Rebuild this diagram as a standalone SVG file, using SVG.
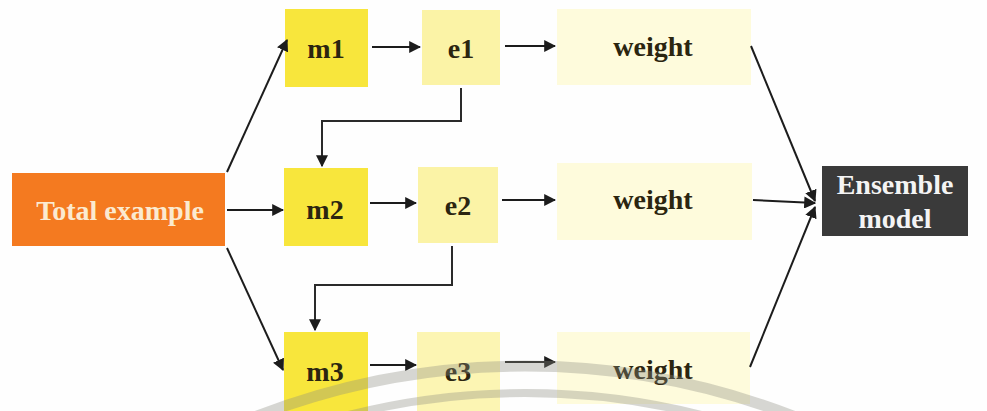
<svg xmlns="http://www.w3.org/2000/svg" width="987" height="411" viewBox="0 0 987 411">
  <style>
    .lbl { font-family: "Liberation Serif", "DejaVu Serif", serif; font-weight: bold; font-size: 28px; text-anchor: middle; fill: #2b2510; }
    .light { fill: #fbead0; }
    .white { fill: #f4f4f4; }
    .m { fill: #f8e63c; }
    .e { fill: #fbf3a6; }
    .w { fill: #fefbdc; }
    .edge { stroke: #1c1c1c; stroke-width: 2; fill: none; marker-end: url(#arrow); }
    .elbow { stroke: #2a2a2a; stroke-width: 2; fill: none; marker-end: url(#arrow); }
    .mark { fill: none; stroke: #8c8c80; stroke-opacity: 0.35; }
  </style>
  <defs>
    <marker id="arrow" viewBox="0 0 10 10" refX="9" refY="5" markerWidth="6" markerHeight="6" markerUnits="strokeWidth" orient="auto">
      <path d="M0,0 L10,5 L0,10 Z" fill="#1c1c1c"/>
    </marker>
  </defs>
  <rect width="987" height="411" fill="#fefefe"/>

  <g id="total">
    <rect x="12" y="173" width="213" height="73" fill="#f47a20"/>
    <text class="lbl light" x="120" y="220">Total example</text>
  </g>

  <g id="m1"><rect class="m" x="285" y="9" width="83" height="78"/><text class="lbl" x="326" y="58">m1</text></g>
  <g id="e1"><rect class="e" x="422" y="10" width="78" height="75"/><text class="lbl" x="461" y="58">e1</text></g>
  <g id="w1"><rect class="w" x="557" y="9" width="194" height="76"/><text class="lbl" x="653" y="56">weight</text></g>

  <g id="m2"><rect class="m" x="284" y="168" width="84" height="78"/><text class="lbl" x="325" y="219">m2</text></g>
  <g id="e2"><rect class="e" x="418" y="167" width="80" height="76"/><text class="lbl" x="458" y="215">e2</text></g>
  <g id="w2"><rect class="w" x="557" y="163" width="195" height="77"/><text class="lbl" x="653" y="209">weight</text></g>

  <g id="m3"><rect class="m" x="284" y="332" width="84" height="79"/><text class="lbl" x="325" y="381">m3</text></g>
  <g id="e3"><rect class="e" x="417" y="332" width="83" height="79" fill-opacity="0.85"/><text class="lbl" x="458" y="381">e3</text></g>
  <g id="w3"><rect class="w" x="557" y="332" width="193" height="72"/><text class="lbl" x="653" y="379">weight</text></g>

  <g id="ensemble">
    <rect x="822" y="166" width="146" height="70" fill="#3a3a3a"/>
    <text class="lbl white" x="895" y="194">Ensemble</text>
    <text class="lbl white" x="895" y="228">model</text>
  </g>

  <g id="connectors">
    <path class="edge" d="M227,172 L287,40"/>
    <path class="edge" d="M227,210 L283,210"/>
    <path class="edge" d="M227,248 L283,370"/>

    <path class="edge" d="M372,47 L420,47"/>
    <path class="edge" d="M505,46 L555,46"/>
    <path class="edge" d="M370,203 L416,203"/>
    <path class="edge" d="M502,200 L555,200"/>
    <path class="edge" d="M370,365 L416,365"/>
    <path class="edge" d="M505,362 L555,362"/>

    <path class="elbow" d="M461,88 L461,121 L322,121 L322,166"/>
    <path class="elbow" d="M452,246 L452,285 L315,285 L315,330"/>

    <path class="edge" d="M751,46 L815,201"/>
    <path class="edge" d="M753,200 L815,203"/>
    <path class="edge" d="M750,367 L815,207"/>
  </g>

  <g id="watermark">
    <circle class="mark" cx="525" cy="1109" r="743" stroke-width="11"/>
    <circle class="mark" cx="525" cy="1109" r="716" stroke-width="8"/>
  </g>
</svg>
